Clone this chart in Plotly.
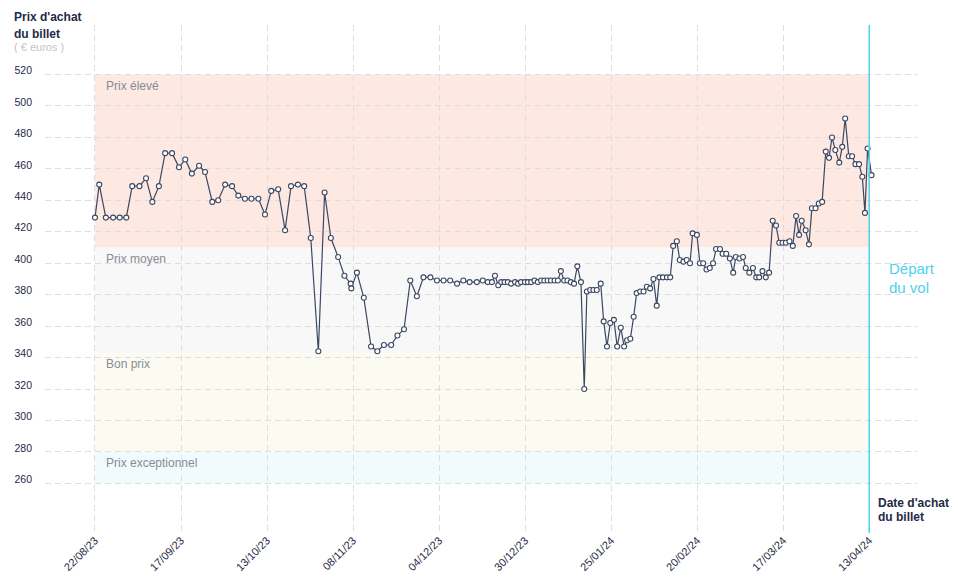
import pandas as pd
import plotly.graph_objects as go

# ---------------- data ----------------
start_date = "2023-08-22"      # first purchase date shown
departure_date = "2024-04-13"  # flight departure

# days since start_date (fractional = time of day of the price check)
purchase_day = [
    0, 1.3, 3.3, 5.5, 7.5, 9.5, 11.3, 13.5, 15.5, 17.4,
    19.4, 21.3, 23.4, 25.5, 27.4, 29.4, 31.6, 33.4, 35.6, 37.4,
    39.5, 41.6, 43.5, 45.5, 47.5, 49.6, 51.6, 53.5, 55.6, 57.7,
    59.5, 61.6, 63.5, 65.5, 67.8, 69.7, 71.6, 73.8, 75.7, 77.6,
    77.8, 79.5, 81.6, 83.8, 85.7, 87.7, 89.9, 91.8, 93.8, 95.7,
    97.7, 99.7, 101.8, 103.8, 105.8, 107.8, 109.9, 111.8, 113.7,
    115.9, 117.7, 119.2, 120.5, 121.4, 122.4, 123.3, 124.3, 125.3, 126.3,
    127.5, 128.4, 129.3, 130.5, 131.4, 132.4, 133.4, 134.4, 135.4, 136.4,
    137.4, 138.4, 139.5, 140.5, 141.4, 142.4, 143.4, 144.4, 145.4, 146.4,
    147.5, 148.5, 149.3, 150.3, 151.3, 152.3, 153.5, 154.4, 155.4, 156.4,
    157.5, 158.5, 159.6, 160.6, 161.5, 162.5, 163.5, 164.4, 165.5, 166.5,
    167.5, 168.5, 169.5, 170.5, 171.3, 172.4, 173.6, 174.6, 175.5, 176.6,
    177.5, 178.6, 179.6, 180.6, 181.4, 182.7, 183.6, 184.6, 185.6, 186.6,
    187.6, 188.5, 189.7, 190.5, 191.6, 192.7, 193.7, 194.5, 195.6, 196.7,
    197.5, 198.6, 199.7, 200.7, 201.6, 202.6, 203.6, 204.6, 205.7, 206.7,
    207.7, 208.7, 209.7, 210.8, 211.8, 212.8, 213.7, 214.5, 215.7, 216.7,
    217.6, 218.7, 219.7, 220.7, 221.8, 222.8, 223.7, 224.7, 225.9, 226.8,
    227.7, 228.8, 229.8, 230.8, 231.9, 232.9, 233.7, 234.5, 235.7,
]

price_eur = [
    429, 450, 429, 429, 429, 429, 449, 449, 454, 439,
    449, 470, 470, 461, 466, 457, 462, 458, 439, 440,
    450, 449, 443, 441, 441, 441, 431, 446, 447, 421,
    449, 450, 449, 416, 344, 445, 416, 404, 392, 387,
    384, 394, 378, 347, 344, 348, 348, 354, 358, 389,
    379, 391, 391, 389, 389, 389, 387, 389, 388,
    388, 389, 388, 388, 392, 386, 388, 388, 388, 387,
    388, 387, 388, 388, 388, 388, 389, 388, 389, 389,
    389, 389, 389, 389, 395, 389, 389, 388, 387, 398,
    388, 320, 382, 383, 383, 383, 387, 363, 347, 362,
    364, 347, 359, 347, 351, 352, 366, 381, 382, 382,
    385, 384, 390, 373, 391, 391, 391, 391, 411, 414,
    402, 401, 402, 400, 419, 418, 400, 400, 396, 397,
    400, 409, 409, 406, 406, 403, 394, 404, 403, 404,
    397, 394, 397, 391, 391, 395, 391, 394, 427, 424,
    413, 413, 413, 414, 411, 430, 418, 427, 421, 412,
    435, 435, 438, 439, 471, 467, 480, 472, 464, 474,
    492, 468, 468, 463, 463, 455, 432, 473, 456,
]

# price zones (label, low, high, colour)
zone_labels = ["Prix élevé", "Prix moyen", "Bon prix", "Prix exceptionnel"]
zone_low = [410, 342.7, 280, 260]
zone_high = [520, 410, 342.7, 280]
zone_colors = ["#fde8e2", "#f8f8f8", "#fbfbf1", "#f1fafd"]

y_ticks = [260, 280, 300, 320, 340, 360, 380, 400, 420, 440, 460, 480, 500, 520]
n_x_ticks = 10

# ---------------- figure ----------------
start = pd.Timestamp(start_date)
depart = pd.Timestamp(departure_date)
x_dates = start + pd.to_timedelta(purchase_day, unit="D")

tick_pos = pd.date_range(start, depart, periods=n_x_ticks)
tick_txt = [t.strftime("%d/%m/%y") for t in tick_pos]

FONT = "Liberation Sans, Arial, sans-serif"
NAVY = "#1f2a44"
LINE = "#3b4862"
CYAN = "#4dd2ee"
GRID = "#dedede"

fig = go.Figure()

fig.add_trace(go.Scatter(
    x=x_dates, y=price_eur, mode="lines+markers",
    line=dict(color=LINE, width=1.2),
    marker=dict(size=5, color="white", line=dict(color=LINE, width=1.1)),
    hoverinfo="x+y", showlegend=False,
))

shapes = []
annotations = []
for lab, lo, hi, col in zip(zone_labels, zone_low, zone_high, zone_colors):
    shapes.append(dict(type="rect", xref="x", yref="y", x0=start, x1=depart,
                       y0=lo, y1=hi, fillcolor=col, line=dict(width=0), layer="below"))
    annotations.append(dict(x=start, y=hi, xref="x", yref="y", text=lab,
                            xanchor="left", yanchor="top", xshift=9, yshift=-2,
                            showarrow=False,
                            font=dict(family=FONT, size=12, color="#878c96")))

# departure line
shapes.append(dict(type="line", xref="x", yref="paper", x0=depart, x1=depart,
                   y0=-0.004, y1=1, line=dict(color=CYAN, width=1.5), layer="above"))

# plot area in pixels: l=45, r=918, t=25, b=535
def px(xp):
    return (xp - 45) / 873.0

def py(yp):
    return (535 - yp) / 510.0

def txt(x, y, s, size, color, bold=False):
    annotations.append(dict(
        x=px(x), y=py(y), xref="paper", yref="paper",
        text=f"<b>{s}</b>" if bold else s, showarrow=False,
        xanchor="left", yanchor="middle",
        font=dict(family=FONT, size=size, color=color)))

txt(12, 17, "Prix d'achat", 12, NAVY, True)
txt(12, 34, "du billet", 12, NAVY, True)
txt(12, 47, "( € euros )", 11, "#c4c4c4")
txt(876, 506.5, "Date d'achat", 12, NAVY, True)
txt(876, 521, "du billet", 12, NAVY, True)
txt(887, 270, "Départ", 15, CYAN)
txt(887, 290, "du vol", 15, CYAN)

x_left = start - pd.Timedelta(days=15.17)
x_right = depart + pd.Timedelta(days=14.8)

fig.update_layout(
    width=958, height=585,
    margin=dict(l=45, r=40, t=25, b=50),
    paper_bgcolor="white", plot_bgcolor="white",
    font=dict(family=FONT, size=10, color=NAVY),
    shapes=shapes, annotations=annotations, showlegend=False,
    xaxis=dict(
        type="date", range=[x_left, x_right],
        tickmode="array", tickvals=tick_pos, ticktext=tick_txt,
        tickangle=-45, tickfont=dict(family=FONT, size=11, color=NAVY),
        showgrid=True, gridcolor=GRID, gridwidth=1, griddash="6px,4px",
        zeroline=False, showline=False, ticks="",
    ),
    yaxis=dict(
        range=[229.7, 551.5], tickmode="array", tickvals=y_ticks,
        tickfont=dict(family=FONT, size=10.5, color=NAVY),
        showgrid=True, gridcolor=GRID, gridwidth=1, griddash="6px,4px",
        zeroline=False, showline=False, ticks="",
        ticklabelstandoff=12, ticklabelshift=-4,
    ),
)

fig.write_html(
    "out.html",
    config={"displayModeBar": False},
    post_script="document.body.style.margin='0';document.body.style.padding='0';",
)
